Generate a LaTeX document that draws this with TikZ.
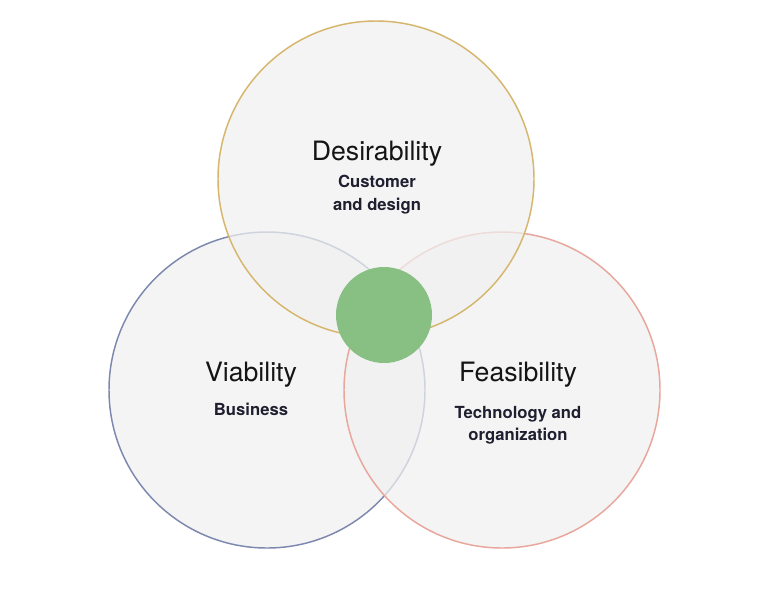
\documentclass[tikz,border=0pt]{standalone}
\usepackage{fontspec}
\setmainfont{TeX Gyre Heros}
\usetikzlibrary{positioning}
\definecolor{desirecol}{HTML}{D5B66C}
\definecolor{viablecol}{HTML}{7C88AE}
\definecolor{feasiblecol}{HTML}{E8A69C}
\definecolor{corecol}{HTML}{88C083}
\definecolor{subcol}{HTML}{1F1F30}
\definecolor{discfill}{HTML}{F0F0F0}

\begin{document}
\begin{tikzpicture}[x=0.75pt, y=-0.75pt,
		disc/.style={line width=1.1pt, fill=discfill, fill opacity=0.72, draw opacity=1},
		title/.style={font=\fontsize{20}{24}\selectfont, text=black!92, inner sep=0pt},
		sub/.style={font=\bfseries\fontsize{12.5}{17}\selectfont, text=subcol, align=center, inner sep=0pt}]
				\useasboundingbox (0, 0) rectangle (759, 615);
				
				\draw[disc, draw=viablecol] (267, 390) circle (158);
				\draw[disc, draw=feasiblecol] (502, 390) circle (158);
				\draw[disc, draw=desirecol] (376, 179) circle (158);
				
				\fill[corecol] (384, 315) circle (48);
				
				\node[title] (desire) at (377, 154) {Desirability};
				\node[sub, below=6pt of desire] (desiresub) {Customer\\and design};
				
				\node[title] (viable) at (251, 375) {Viability};
				\node[sub, below=11pt of viable] (viablesub) {Business};
				
				\node[title] (feasible) at (518, 375) {Feasibility};
				\node[sub, below=13.5pt of feasible] (feasiblesub) {Technology and\\organization};
			\end{tikzpicture}
\end{document}
